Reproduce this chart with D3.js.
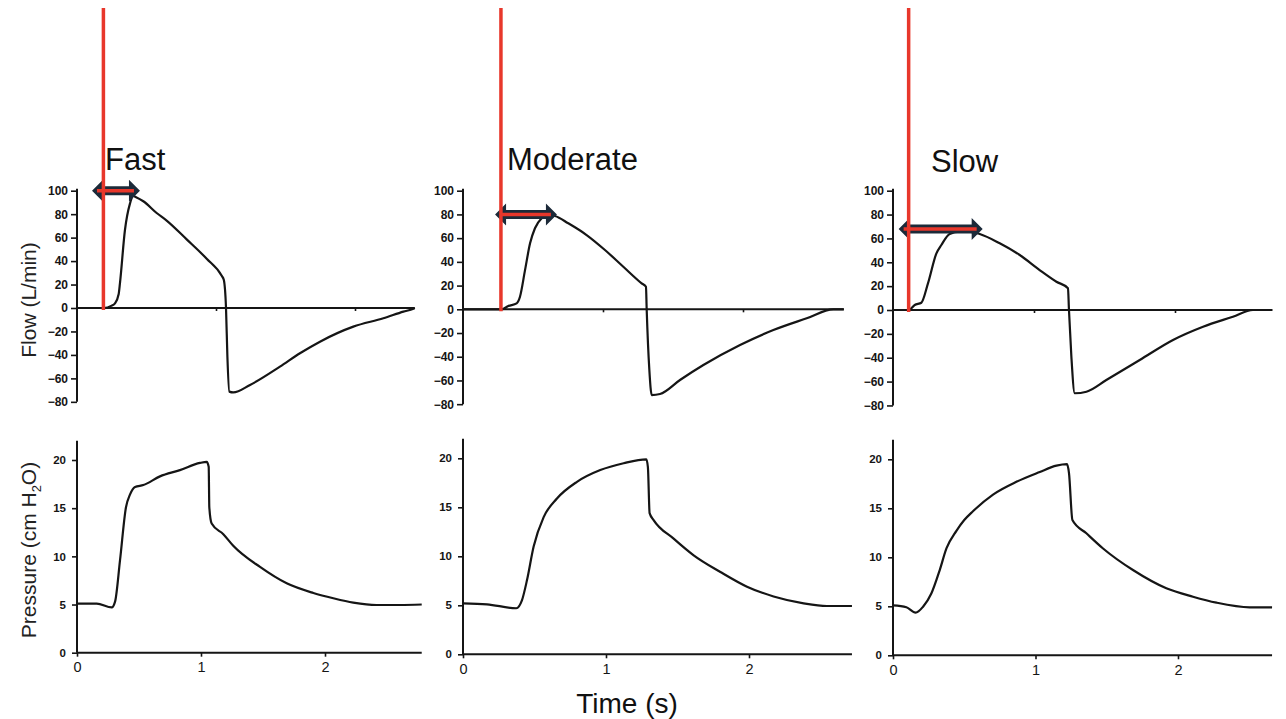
<!DOCTYPE html>
<html>
<head>
<meta charset="utf-8">
<script src="https://cdn.jsdelivr.net/npm/d3@7"></script>
<style>
  html, body { margin: 0; padding: 0; background: #fff; }
  svg { display: block; font-family: "Liberation Sans", Arial, sans-serif; }
</style>
</head>
<body>
<svg id="chart" width="1286" height="719"></svg>
<script>
// ---- Data -------------------------------------------------------------
const conditions = ["Fast", "Moderate", "Slow"];
const timeTicks = [0, 1, 2];
const flowTicks = [100, 80, 60, 40, 20, 0, -20, -40, -60, -80];
const pressureTicks = [0, 5, 10, 15, 20];

// Flow (L/min) against time (s)
const fastFlow = [
  [0, 0], [0.19, 0], [0.25, 2], [0.273, 4], [0.3, 12], [0.309, 21], [0.345, 66.5], [0.381, 89],
  [0.405, 95.5], [0.425, 94.5], [0.477, 91], [0.573, 81], [0.645, 74.5], [0.789, 58.5],
  [0.933, 42], [1.041, 27.5], [1.056, 24], [1.072, 0], [1.082, -41.5], [1.096, -71.3],
  [1.124, -72], [1.245, -65.6], [1.46, -50], [1.604, -38.6], [1.748, -28.7], [1.988, -15.9],
  [2.204, -8.8], [2.348, -3.1], [2.42, -0.6], [2.43, 0]
];
const moderateFlow = [
  [0, 0], [0.276, 0], [0.324, 2.8], [0.383, 5], [0.407, 10.6], [0.443, 33], [0.479, 55.6],
  [0.514, 68.3], [0.562, 76.7], [0.61, 79.5], [0.657, 78.7], [0.752, 72.5], [0.883, 62.6],
  [1.014, 50], [1.145, 35.9], [1.276, 21.9], [1.307, 19], [1.312, 0], [1.331, -51],
  [1.348, -72.3], [1.407, -71.4], [1.55, -59.6], [1.717, -47], [1.979, -30.1],
  [2.217, -17.5], [2.455, -7.6], [2.645, 0], [2.72, 0]
];
const slowFlow = [
  [0, 0], [0.113, 0], [0.154, 4.2], [0.201, 6.1], [0.248, 22.3], [0.308, 47.5], [0.343, 54.5],
  [0.402, 63.7], [0.473, 65.6], [0.55, 65.5], [0.615, 63.7], [0.757, 55.9], [0.899, 46.1],
  [1.04, 33.5], [1.159, 23.7], [1.241, 18.2], [1.248, 0], [1.265, -39], [1.289, -69.8],
  [1.372, -68.5], [1.513, -58.7], [1.75, -41.9], [1.986, -25.1], [2.199, -14],
  [2.411, -5.6], [2.553, 0], [2.69, 0]
];

// Airway pressure (cm H2O) against time (s)
const fastPressure = [
  [0, 5.1], [0.159, 5.1], [0.28, 4.7], [0.307, 5.3], [0.347, 9.6], [0.395, 15.1], [0.427, 16.4],
  [0.468, 17.2], [0.535, 17.4], [0.669, 18.3], [0.83, 18.95], [0.992, 19.7], [1.046, 19.8],
  [1.062, 19.3], [1.067, 15.1], [1.086, 13.4], [1.18, 12.3], [1.26, 11.1], [1.476, 8.9],
  [1.691, 7.2], [1.906, 6.2], [2.067, 5.65], [2.228, 5.2], [2.415, 4.95], [2.605, 4.95], [2.78, 5.0]
];
const moderatePressure = [
  [0, 5.2], [0.168, 5.1], [0.373, 4.7], [0.412, 5.5], [0.448, 7.6], [0.494, 11], [0.564, 14],
  [0.657, 15.9], [0.797, 17.6], [0.96, 18.8], [1.123, 19.5], [1.282, 19.9], [1.293, 19.1],
  [1.305, 14.4], [1.333, 13.7], [1.473, 11.8], [1.613, 10.1], [1.8, 8.4], [1.986, 6.9],
  [2.172, 5.9], [2.382, 5.2], [2.545, 4.93], [2.72, 4.93]
];
const slowPressure = [
  [0, 5.1], [0.094, 4.9], [0.159, 4.35], [0.211, 4.96], [0.269, 6.3], [0.328, 8.7], [0.375, 10.9],
  [0.445, 12.7], [0.5, 13.8], [0.561, 14.7], [0.702, 16.4], [0.866, 17.7], [1.03, 18.7], [1.147, 19.35],
  [1.221, 19.5], [1.235, 18.6], [1.259, 13.8], [1.357, 12.45], [1.474, 10.9], [1.684, 8.7],
  [1.918, 6.84], [2.105, 5.98], [2.27, 5.37], [2.503, 4.9], [2.66, 4.9]
];

// Inspiration onset (s) and rise-time span marked above each flow trace
const onsetTimes = [0.19, 0.271, 0.111];
const riseFrom = [0.108, 0.229, 0.04];
const riseTo = [0.453, 0.671, 0.636];
const riseLevel = [100, 80, 68];

const flowSeries = [fastFlow, moderateFlow, slowFlow];
const pressureSeries = [fastPressure, moderatePressure, slowPressure];

// ---- Layout (pixels) --------------------------------------------------
const layout = [
  { top: { x0: 77,  pps: 139,   tMax: 2.43, y0: 308,   y100: 190.7 },
    bot: { x0: 77,  pps: 124,   tMax: 2.78, y0: 652.7, y20: 460 },
    title: { x: 105, y: 170 } },
  { top: { x0: 463, pps: 140,   tMax: 2.72, y0: 309.3, y100: 190.7 },
    bot: { x0: 463, pps: 143,   tMax: 2.72, y0: 654.3, y20: 458.3 },
    title: { x: 507, y: 170 } },
  { top: { x0: 893, pps: 141,   tMax: 2.69, y0: 310,   y100: 190.7 },
    bot: { x0: 893, pps: 142.5, tMax: 2.66, y0: 655.3, y20: 459.3 },
    title: { x: 931, y: 172 } }
];

const INK = "#151515";
const RED = "#e8372b";
const NAVY = "#1c2a39";
const FONT = "Liberation Sans, Arial, sans-serif";

const svg = d3.select("#chart");

conditions.forEach((name, i) => {
  const L = layout[i];
  const g = svg.append("g");

  // ---- Flow panel ----
  const xT = d3.scaleLinear().domain([0, L.top.tMax])
    .range([L.top.x0, L.top.x0 + L.top.pps * L.top.tMax]);
  const yF = d3.scaleLinear().domain([0, 100]).range([L.top.y0, L.top.y100]);

  const yAxisF = d3.axisLeft(yF).tickValues(flowTicks).tickSize(6).tickPadding(3)
    .tickFormat(d3.format("d"));
  const gyF = g.append("g").attr("transform", `translate(${L.top.x0},0)`).call(yAxisF);
  gyF.select(".domain").attr("d", `M0,${yF(-80)}V${yF(100) - 2}`);

  // zero line with small time ticks
  const xAxisF = d3.axisBottom(xT).tickValues(timeTicks.filter(t => t > 0))
    .tickSize(3).tickFormat("");
  const gxF = g.append("g").attr("transform", `translate(0,${yF(0)})`).call(xAxisF);
  gxF.select(".domain").attr("d", `M${xT(0)},0H${xT(L.top.tMax)}`);

  g.append("path").datum(flowSeries[i])
    .attr("fill", "none").attr("stroke", INK).attr("stroke-width", 2.2)
    .attr("stroke-linejoin", "round")
    .attr("d", d3.line().curve(d3.curveMonotoneX).x(d => xT(d[0])).y(d => yF(d[1])));

  // ---- Pressure panel ----
  const xB = d3.scaleLinear().domain([0, L.bot.tMax])
    .range([L.bot.x0, L.bot.x0 + L.bot.pps * L.bot.tMax]);
  const yP = d3.scaleLinear().domain([0, 20]).range([L.bot.y0, L.bot.y20]);

  const yAxisP = d3.axisLeft(yP).tickValues(pressureTicks).tickSize(5).tickPadding(6)
    .tickFormat(d3.format("d"));
  const gyP = g.append("g").attr("transform", `translate(${L.bot.x0},0)`).call(yAxisP);
  gyP.select(".domain").attr("d", `M0,${yP(0)}V${yP(22)}`);

  const xAxisP = d3.axisBottom(xB).tickValues(timeTicks).tickSize(4).tickPadding(5)
    .tickFormat(d3.format("d"));
  const gxP = g.append("g").attr("transform", `translate(0,${yP(0)})`).call(xAxisP);
  gxP.select(".domain").attr("d", `M${xB(0)},0H${xB(L.bot.tMax)}`);

  g.append("path").datum(pressureSeries[i])
    .attr("fill", "none").attr("stroke", INK).attr("stroke-width", 2.2)
    .attr("stroke-linejoin", "round")
    .attr("d", d3.line().curve(d3.curveMonotoneX).x(d => xB(d[0])).y(d => yP(d[1])));

  // axis styling
  g.selectAll(".domain").attr("stroke", INK).attr("stroke-width", 2);
  g.selectAll(".tick line").attr("stroke", INK).attr("stroke-width", 1.6);
  gyF.selectAll(".tick text").attr("font-size", 12).attr("font-weight", "bold")
    .attr("fill", INK).attr("font-family", FONT);
  gyP.selectAll(".tick text").attr("font-size", 11.5).attr("font-weight", "bold")
    .attr("fill", INK).attr("font-family", FONT);
  gxP.selectAll(".tick text").attr("font-size", 14.5)
    .attr("fill", INK).attr("font-family", FONT);

  // ---- Rise-time arrow ----
  const xl = xT(riseFrom[i]), xr = xT(riseTo[i]), yc = yF(riseLevel[i]);
  const hl = 11, hh = 11, sh = 4.5;
  g.append("path")
    .attr("fill", NAVY)
    .attr("d", `M${xl},${yc}L${xl + hl},${yc - hh}L${xl + hl},${yc - sh}L${xr - hl},${yc - sh}` +
               `L${xr - hl},${yc - hh}L${xr},${yc}L${xr - hl},${yc + hh}L${xr - hl},${yc + sh}` +
               `L${xl + hl},${yc + sh}L${xl + hl},${yc + hh}Z`);
  g.append("line")
    .attr("x1", xl + 5).attr("x2", xr - 6).attr("y1", yc).attr("y2", yc)
    .attr("stroke", RED).attr("stroke-width", 3.5);

  // ---- Inspiration onset marker ----
  g.append("line")
    .attr("x1", xT(onsetTimes[i])).attr("x2", xT(onsetTimes[i]))
    .attr("y1", 8).attr("y2", yF(0) + 2)
    .attr("stroke", RED).attr("stroke-width", 3.5);

  // ---- Condition title ----
  g.append("text")
    .attr("x", L.title.x).attr("y", L.title.y)
    .attr("font-size", 31).attr("fill", "#111")
    .text(name);
});

// ---- Shared axis titles ----
svg.append("text")
  .attr("transform", "translate(36,300) rotate(-90)")
  .attr("text-anchor", "middle").attr("font-size", 21).attr("fill", "#222")
  .text("Flow (L/min)");

const pLabel = svg.append("text")
  .attr("transform", "translate(36,550) rotate(-90)")
  .attr("text-anchor", "middle").attr("font-size", 21).attr("fill", "#222");
pLabel.append("tspan").text("Pressure (cm H");
pLabel.append("tspan").attr("font-size", 13).attr("dy", 5).text("2");
pLabel.append("tspan").attr("dy", -5).text("O)");

svg.append("text")
  .attr("x", 627).attr("y", 713)
  .attr("text-anchor", "middle").attr("font-size", 28).attr("fill", "#111")
  .text("Time (s)");
</script>
</body>
</html>
